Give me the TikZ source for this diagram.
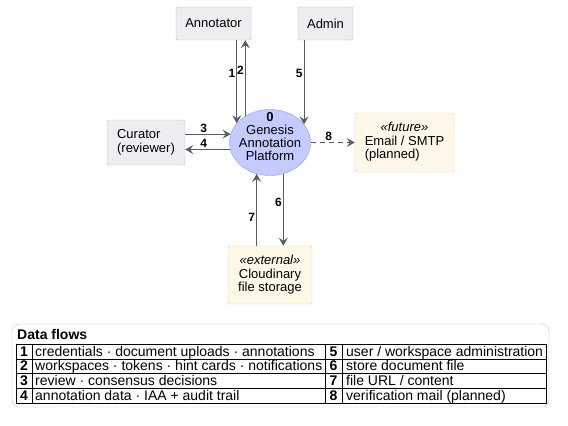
\documentclass[tikz,border=0pt]{standalone}
\usepackage{fontspec}
\setmainfont{Liberation Sans}
\usepackage{xcolor}
\usetikzlibrary{arrows.meta,positioning,shapes.geometric}

\definecolor{actorfill}{HTML}{EDEDF2}
\definecolor{actorline}{HTML}{B9B9C0}
\definecolor{procfill}{HTML}{C4CBFF}
\definecolor{procline}{HTML}{8F99EC}
\definecolor{extfill}{HTML}{FFF8E8}
\definecolor{extline}{HTML}{E0CC92}
\definecolor{flowgray}{HTML}{5C5C63}

\tikzset{
  actor/.style={draw=actorline,fill=actorfill,rounded corners=2pt,inner sep=0pt,
    font=\fontsize{13}{14}\selectfont},
  process/.style={ellipse,draw=procline,fill=procfill,minimum width=81pt,
    minimum height=66pt,inner sep=0pt},
  extstore/.style={draw=extline,fill=extfill,rounded corners=2pt,inner sep=0pt,
    font=\fontsize{13}{13.5}\selectfont,align=center},
  flow/.style={draw=flowgray,line width=1.1pt,
    -{Stealth[length=8pt,width=9pt,inset=3pt]}},
  num/.style={font=\fontsize{12}{12}\selectfont\bfseries,inner sep=1pt},
  legnum/.style={font=\fontsize{14}{14}\selectfont\bfseries,inner sep=0pt,anchor=base},
  legtext/.style={font=\fontsize{14}{14}\selectfont,inner sep=0pt,anchor=base west},
}

\begin{document}
\begin{tikzpicture}[x=1pt,y=-1pt]
  \useasboundingbox (0,0) rectangle (568,426);

  % Akteure
  \node[actor,minimum width=75pt,minimum height=33pt] (annot) at (213.5,23.5) {Annotator};
  \node[actor,minimum width=55pt,minimum height=33pt] (admin) at (325.5,23.5) {Admin};
  \node[actor,minimum width=78pt,minimum height=45pt,align=left] (curator) at (146,142.5) {Curator\\(reviewer)};

  % Prozess
  \node[process] (platform) at (270,142.5) {};
  \node[align=center,inner sep=0pt,font=\fontsize{13}{13}\selectfont] (platformtxt) at (270,137) {\textbf{0}\\Genesis\\Annotation\\Platform};

  % externe Dienste
  \node[extstore,minimum width=99pt,minimum height=59pt] (email) at (404.5,142.5)
    {\begin{tabular}{@{}l@{}}\multicolumn{1}{@{}c@{}}{\textit{«future»}}\\Email / SMTP\\(planned)\end{tabular}};
  \node[extstore,minimum width=84pt,minimum height=58pt] (storage) at (270,275) {\textit{«external»}\\Cloudinary\\file storage};

  % Datenfluesse
  \draw[flow] (platform.150 |- annot.south) -- (platform.150) node[num,pos=0.4,left] {1};
  \draw[flow] (platform.133) -- (platform.133 |- annot.south) node[num,pos=0.6,left] {2};
  \draw[flow] (platform.28 |- admin.south) -- (platform.28) node[num,pos=0.4,left] {5};
  \draw[flow] (curator.east |- platform.168) -- (platform.168) node[num,pos=0.41,above] {3};
  \draw[flow] (platform.190) -- (curator.east |- platform.190) node[num,pos=0.59,above] {4};
  \draw[flow,dash pattern=on 5pt off 4pt] (platform.east) -- (email.west) node[num,pos=0.41,above] {8};
  \draw[flow] (storage.north -| platform.247) -- (platform.247) node[num,pos=0.39,left] {7};
  \draw[flow] (platform.293) -- (platform.293 |- storage.north) node[num,pos=0.4,left] {6};

  % Legende
  \node[draw=gray!45,fill=white,rounded corners=7pt,minimum width=537pt,minimum height=83pt] (legend) at (280.5,365.5) {};
  \node[anchor=base west,inner sep=0pt,font=\fontsize{14}{14}\selectfont\bfseries] (legendtitle) at (17,339) {Data flows};
  \draw[line width=0.8pt] (16,344) rectangle (546,403);
  \foreach \y in {358.75,373.5,388.25} \draw (16,\y) -- (546,\y);
  \foreach \x in {32,325,342.5} \draw (\x,344) -- (\x,403);
  \foreach \a/\ta/\b/\tb [count=\r from 0] in {
    1/{credentials · document uploads · annotations}/5/{user / workspace administration},
    2/{workspaces · tokens · hint cards · notifications}/6/{store document file},
    3/{review · consensus decisions}/7/{file URL / content},
    4/{annotation data · IAA + audit trail}/8/{verification mail (planned)}}
  {
    \node[legnum] (num\a) at (24,356+14.75*\r) {\a};
    \node[legtext] (flow\a) at (35,356+14.75*\r) {\ta};
    \node[legnum] (num\b) at (333.5,356+14.75*\r) {\b};
    \node[legtext] (flow\b) at (346,356+14.75*\r) {\tb};
  }
\end{tikzpicture}
\end{document}
